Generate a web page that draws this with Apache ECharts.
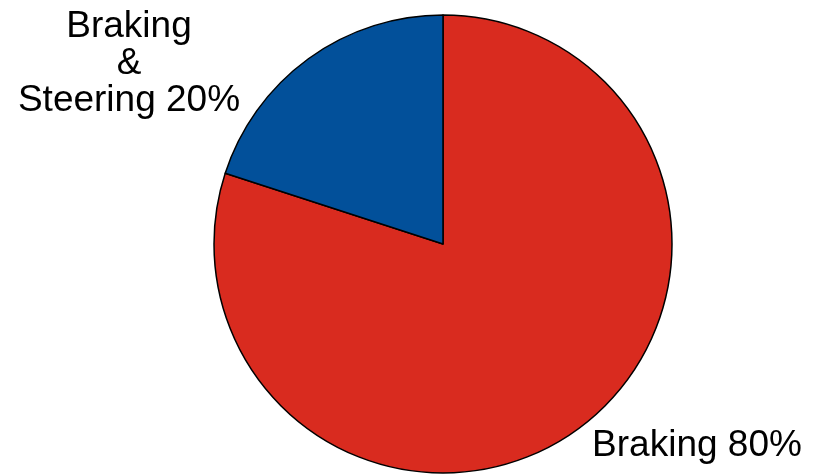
<!DOCTYPE html>
<html>
<head>
<meta charset="utf-8">
<script src="https://cdn.jsdelivr.net/npm/echarts@6/dist/echarts.min.js"></script>
<style>
  html, body { margin: 0; padding: 0; background: #fff; }
  #chart { width: 813px; height: 475px; }
</style>
</head>
<body>
<div id="chart"></div>
<script>
const categories = ['Braking', 'Braking\n&\nSteering']
const shares = [80, 20]
const colors = ['#d92b1f', '#02509a']

// label anchor points (centre of each text block)
const labelSpots = [
  { x: 697, y: 446 },
  { x: 129, y: 64 },
]

const chart = echarts.init(document.getElementById('chart'), null, { renderer: 'canvas' })

const option = {
  backgroundColor: '#ffffff',
  animation: false,
  series: [
    {
      type: 'pie',
      center: [443, 244],
      radius: 229,
      startAngle: 90,
      clockwise: true,
      data: categories.map((name, i) => ({
        name: name,
        value: shares[i],
        itemStyle: { color: colors[i] },
      })),
      itemStyle: {
        borderColor: '#000',
        borderWidth: 1.5,
      },
      label: {
        show: true,
        position: 'outside',
        formatter: (p) => `${p.name} ${p.value}%`,
        fontFamily: 'Liberation Sans, Arial, sans-serif',
        fontSize: 37,
        lineHeight: 37,
        color: '#000',
        align: 'center',
        overflow: 'none',
        width: 300,
      },
      labelLine: { show: false },
      labelLayout: (params) => {
        const spot = labelSpots[params.dataIndex]
        return {
          x: spot.x,
          y: spot.y,
          align: 'center',
          verticalAlign: 'middle',
        }
      },
      emphasis: { disabled: true },
    },
  ],
}

chart.setOption(option)
</script>
</body>
</html>
